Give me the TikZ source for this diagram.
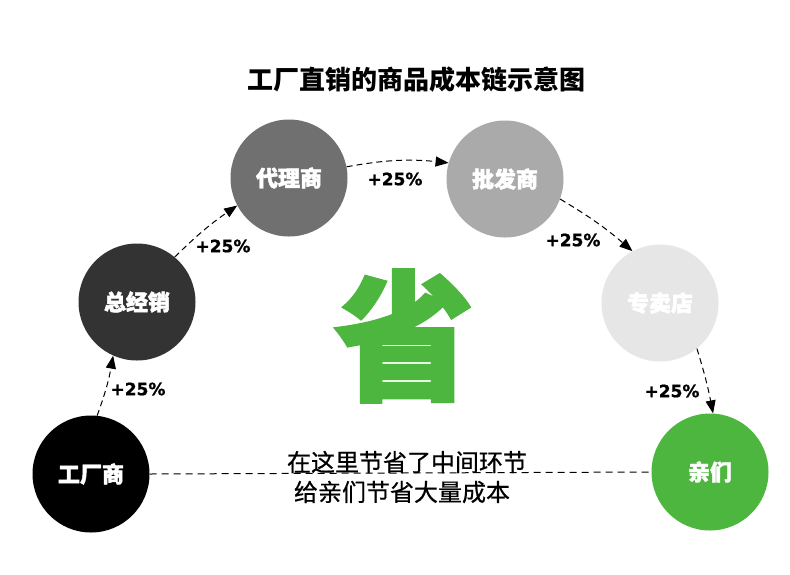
\documentclass[tikz,border=0pt]{standalone}
\usepackage{fontspec}
\newfontfamily\cjk{Noto Sans CJK SC}
\newfontfamily\cjkmed{Noto Sans CJK SC}[FakeBold=0.6]
\newfontfamily\cjkheavy{Noto Sans CJK SC}[BoldFeatures={FakeBold=2}]
\newfontfamily\numfont{DejaVu Sans}[BoldFeatures={FakeBold=1}]
\usetikzlibrary{arrows.meta}
\definecolor{cgreen}{HTML}{4DB63E}
\definecolor{cdark}{HTML}{333333}
\definecolor{cmid}{HTML}{707070}
\definecolor{clight}{HTML}{AAAAAA}
\definecolor{cpale}{HTML}{E6E6E6}
\tikzset{
  stage/.style={circle, minimum size=117pt, inner sep=0pt, text=white, font=\cjkheavy\bfseries\fontsize{22}{24}\selectfont},
  flow/.style={dashed, dash pattern=on 6pt off 4pt, line width=1pt, -{Triangle[length=13pt,width=10pt]}},
  pct/.style={font=\numfont\bfseries\fontsize{17}{19}\selectfont, text=black},
}
\begin{document}
\begin{tikzpicture}[x=1pt,y=-1pt]
\useasboundingbox (0,0) rectangle (790,574);
\fill[white] (0,0) rectangle (790,574);
\node[font=\cjk\bfseries\fontsize{26}{28}\selectfont] (title) at (416,80) {工厂直销的商品成本链示意图};
\node[stage, fill=black] (f) at (91,474) {工厂商};
\node[stage, fill=cdark] (z) at (137,302) {总经销};
\node[stage, fill=cmid] (d) at (289,178) {代理商};
\node[stage, fill=clight] (p) at (505,179) {批发商};
\node[stage, fill=cpale] (s) at (660,303) {专卖店};
\node[stage, fill=cgreen] (q) at (710,472) {亲们};
\node[font=\cjkheavy\bfseries\fontsize{140}{140}\selectfont, text=cgreen] (sheng) at (404,336) {省};
\draw[flow] (f.84) to[bend right=5] (z.246);
\draw[flow] (z.50) to[bend left=5] (d.208);
\draw[flow] (d.11) to[bend left=8] (p.164);
\draw[flow] (p.-20) to[bend left=5] (s.118);
\draw[flow] (s.-51) to[bend left=3] (q.87);
\node[pct] (l1) at (138,389) {+25\%};
\node[pct] (l2) at (223,246) {+25\%};
\node[pct] (l3) at (395,179) {+25\%};
\node[pct] (l4) at (573,240) {+25\%};
\node[pct] (l5) at (672,391) {+25\%};
\draw[dashed, dash pattern=on 7pt off 5pt, line width=1pt] (f.east) -- (q.west);
\node[font=\cjkmed\fontsize{24}{26}\selectfont] (t1) at (407,462) {在这里节省了中间环节};
\node[font=\cjkmed\fontsize{24}{26}\selectfont] (t2) at (402,492) {给亲们节省大量成本};
\end{tikzpicture}
\end{document}
